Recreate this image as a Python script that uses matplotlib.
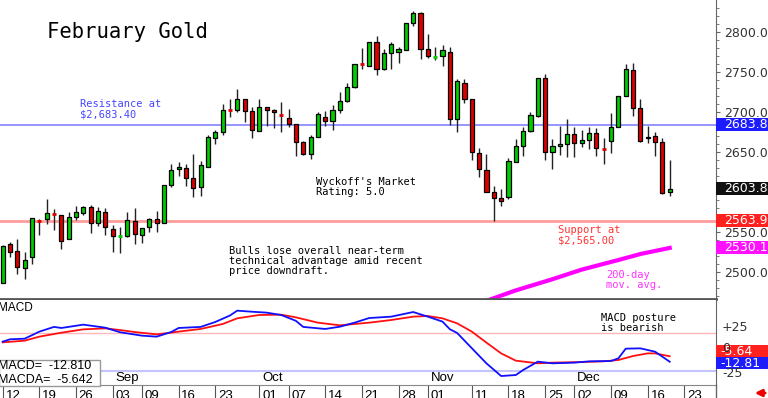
import numpy as np
import matplotlib.pyplot as plt
from matplotlib.patches import Rectangle
import matplotlib.transforms as mtransforms

# daily candles, Feb gold, Aug 12 .. Dec 19
opens = [2486.7, 2534.6, 2526.7, 2505.4, 2518.3, 2564.0, 2566.3, 2572.5, 2571.3, 2541.3,
         2568.3, 2574.2, 2580.8, 2560.8, 2574.6, 2553.3, 2545.4, 2545.4, 2564.2, 2546.3,
         2555.8, 2566.0, 2561.7, 2608.3, 2628.3, 2630.4, 2617.0, 2605.8, 2631.7, 2667.0,
         2674.6, 2703.0, 2702.5, 2716.0, 2701.0, 2676.7, 2705.8, 2702.5, 2696.7, 2692.0,
         2684.6, 2662.9, 2647.5, 2669.2, 2694.2, 2689.0, 2702.5, 2713.8, 2730.8, 2759.6,
         2757.9, 2787.0, 2753.3, 2773.3, 2775.4, 2777.5, 2810.8, 2824.2, 2778.3, 2769.0,
         2770.0, 2775.4, 2691.3, 2736.7, 2716.3, 2648.3, 2627.5, 2600.4, 2593.0, 2594.2,
         2637.9, 2657.9, 2676.7, 2695.0, 2742.1, 2649.6, 2657.9, 2660.0, 2672.5, 2661.7,
         2665.0, 2673.3, 2653.8, 2664.2, 2681.7, 2720.4, 2752.5, 2704.6, 2667.5, 2670.0,
         2662.1, 2599.6]
highs = [2533.5, 2537.0, 2540.8, 2525.4, 2567.5, 2566.0, 2591.3, 2578.3, 2571.3, 2575.4,
         2582.9, 2583.0, 2583.8, 2581.7, 2579.6, 2558.8, 2556.7, 2574.6, 2579.6, 2555.4,
         2567.0, 2576.7, 2609.0, 2635.0, 2637.0, 2634.6, 2647.5, 2638.8, 2671.0, 2677.5,
         2709.6, 2715.8, 2729.2, 2716.3, 2706.7, 2716.3, 2705.8, 2703.8, 2712.0, 2703.3,
         2684.6, 2664.0, 2671.3, 2700.4, 2701.3, 2708.3, 2724.6, 2735.8, 2760.0, 2779.6,
         2787.0, 2795.4, 2778.8, 2787.9, 2781.7, 2811.7, 2826.3, 2825.4, 2797.0, 2781.7,
         2783.8, 2781.7, 2741.3, 2741.3, 2716.3, 2655.4, 2647.5, 2607.9, 2603.8, 2642.0,
         2665.8, 2681.7, 2700.4, 2742.1, 2747.1, 2665.8, 2682.5, 2690.8, 2681.7, 2677.5,
         2681.7, 2679.6, 2667.9, 2699.2, 2720.4, 2760.0, 2760.8, 2716.3, 2682.5, 2674.6,
         2667.0, 2640.0]
lows = [2486.0, 2519.0, 2497.5, 2490.8, 2509.6, 2546.0, 2559.6, 2552.5, 2528.3, 2541.0,
        2565.0, 2571.3, 2549.2, 2557.5, 2546.3, 2525.4, 2523.3, 2544.0, 2535.0, 2536.7,
        2550.4, 2550.4, 2561.0, 2606.7, 2620.0, 2608.0, 2594.0, 2595.4, 2631.0, 2659.6,
        2671.3, 2694.2, 2699.6, 2687.1, 2667.9, 2676.7, 2682.9, 2679.6, 2674.6, 2680.8,
        2645.4, 2646.0, 2641.3, 2668.3, 2682.9, 2677.5, 2698.3, 2712.9, 2730.0, 2753.3,
        2757.5, 2746.3, 2752.5, 2753.3, 2761.7, 2777.5, 2807.5, 2765.8, 2767.0, 2765.0,
        2757.5, 2683.8, 2674.6, 2711.7, 2640.0, 2619.2, 2600.4, 2563.8, 2582.9, 2590.8,
        2637.0, 2645.0, 2675.4, 2694.2, 2640.0, 2628.8, 2646.3, 2644.2, 2643.3, 2655.8,
        2653.3, 2645.4, 2634.6, 2649.2, 2681.7, 2720.4, 2695.4, 2662.1, 2660.8, 2645.4,
        2597.1, 2595.4]
closes = [2533.0, 2525.4, 2506.7, 2515.0, 2567.0, 2563.8, 2573.3, 2572.3, 2538.3, 2569.2,
          2574.6, 2580.8, 2560.8, 2576.3, 2556.7, 2545.4, 2545.6, 2565.0, 2547.0, 2555.4,
          2566.3, 2561.7, 2608.8, 2627.5, 2630.8, 2617.0, 2605.4, 2633.8, 2669.2, 2674.6,
          2702.5, 2702.8, 2716.3, 2701.3, 2677.5, 2705.8, 2702.5, 2699.6, 2696.5, 2684.6,
          2662.9, 2647.5, 2669.2, 2697.1, 2688.8, 2702.5, 2713.8, 2730.8, 2760.0, 2759.4,
          2787.0, 2753.8, 2773.3, 2784.6, 2778.8, 2810.8, 2823.3, 2778.3, 2770.0, 2769.2,
          2777.5, 2691.3, 2738.8, 2716.3, 2649.6, 2628.8, 2600.4, 2592.9, 2588.8, 2638.8,
          2657.9, 2676.7, 2696.3, 2742.1, 2649.6, 2657.9, 2660.0, 2672.5, 2660.8, 2665.0,
          2673.3, 2654.6, 2653.6, 2681.7, 2720.4, 2753.8, 2704.6, 2664.2, 2669.2, 2662.1,
          2598.3, 2603.8]

# 200-day moving average (visible part only)
ma_idx = [67, 71, 76, 80, 85, 88, 92]
ma_val = [2464.0, 2477.0, 2491.0, 2503.0, 2515.0, 2522.5, 2530.1]

# MACD (blue) and its average (red)
macd_idx = [1, 2, 4, 6, 8, 9, 12, 15, 17, 20, 22, 24, 25, 28, 30, 32, 33, 35, 37, 39,
            41, 42, 45, 47, 49, 51, 54, 57, 59, 61, 62, 63, 65, 67, 69, 71, 72, 74, 76,
            79, 81, 84, 85, 86, 88, 90, 92]
macd_val = [13.6, 16.7, 17.5, 26.8, 33.0, 31.6, 36.0, 32.0, 26.0, 21.5, 20.2, 26.3, 31.6,
            33.0, 39.5, 48.0, 54.4, 53.0, 51.8, 48.7, 41.0, 33.0, 30.3, 33.3, 38.6, 44.7,
            46.5, 52.6, 46.5, 40.0, 30.0, 25.0, 5.0, -15.0, -31.6, -30.3, -23.7, -12.7,
            -14.9, -14.0, -12.3, -11.8, -8.3, 4.4, 4.8, 0.4, -12.81]
sig_idx = [1, 4, 6, 9, 12, 15, 17, 19, 22, 25, 28, 31, 33, 36, 39, 41, 44, 47, 51, 54,
           57, 59, 61, 63, 65, 67, 69, 71, 74, 76, 80, 83, 85, 87, 89, 90, 92]
sig_val = [12.7, 14.9, 20.2, 25.4, 29.8, 31.1, 28.9, 26.3, 23.2, 26.8, 30.3, 36.8, 44.3,
           48.7, 49.1, 45.6, 38.6, 35.1, 38.6, 42.1, 46.5, 47.4, 44.3, 37.7, 26.8, 12.3,
           -1.8, -11.4, -14.9, -14.0, -13.2, -12.3, -10.5, -5.3, -1.8, -1.8, -5.64]

# date axis
tick_idx = [1, 6, 11, 16, 20, 25, 30, 36, 40, 45, 50, 55, 59, 65, 70, 75, 79, 84, 89, 94]
tick_lab = ['12', '19', '26', '03', '09', '16', '23', '01', '07', '14', '21', '28',
            '01', '11', '18', '25', '02', '09', '16', '23']
month_idx = [16, 36, 59, 79]
month_lab = ['Sep', 'Oct', 'Nov', 'Dec']

resistance = 2683.4
support = 2563.9
last_close = 2603.8
resist_box = 2683.8
ma_last = 2530.1
macd_last = -12.81
macda_last = -5.64

W, H = 768, 398
fig = plt.figure(figsize=(W / 100, H / 100), dpi=100)


def box(x0, y0, x1, y1):
    # pixel box (top-left origin) -> figure fraction rect
    return [x0 / W, 1 - y1 / H, (x1 - x0) / W, (y1 - y0) / H]


ax = fig.add_axes(box(0, 0, 716, 299))
mx = fig.add_axes(box(0, 300, 716, 385))

xlo, xhi = 4.63 / 7.33, (716 + 4.63) / 7.33
mono = 'DejaVu Sans Mono'
sans = 'Liberation Sans'
rfont = 'DejaVu Sans'

# ---- price panel ----
ax.set_xlim(xlo, xhi)
ax.set_ylim(2466.25, 2840)
ax.axhline(resistance, color='#8c8cff', lw=1.3, zorder=1)
ax.axhline(support, color='#ff9c9c', lw=2, zorder=1)

bw = 0.56
for k in range(len(opens)):
    i = k + 1
    o, h, l, c = opens[k], highs[k], lows[k], closes[k]
    col = '#00cc00' if c >= o else '#dd0000'
    ax.vlines(i, l, h, color='#222222', lw=1, zorder=3)
    if abs(c - o) < 1:
        ax.hlines(o, i - bw / 2, i + bw / 2, color=col, lw=2, zorder=4)
    else:
        ax.add_patch(Rectangle((i - bw / 2, min(o, c)), bw, abs(c - o),
                               facecolor=col, edgecolor='black', lw=0.9, zorder=4))

ax.plot(ma_idx, ma_val, color='#ff00ff', lw=3, zorder=2)

ax.text(47 / 716, 1 - 32 / 299, 'February Gold', transform=ax.transAxes,
        fontsize=14.8, family=mono, va='center', ha='left')
ax.text(80 / 716, 1 - 109 / 299, 'Resistance at\n$2,683.40', transform=ax.transAxes,
        fontsize=7.5, family=mono, color='#4646ff', va='center', linespacing=1.05)
ax.text(316 / 716, 1 - 187 / 299, "Wyckoff's Market\nRating: 5.0", transform=ax.transAxes,
        fontsize=7.5, family=mono, color='black', va='center', linespacing=1.05)
ax.text(229 / 716, 1 - 261 / 299, 'Bulls lose overall near-term\ntechnical advantage amid recent\nprice downdraft.',
        transform=ax.transAxes, fontsize=7.5, family=mono, color='black', va='center', linespacing=1.05)
ax.text(558 / 716, 1 - 235 / 299, 'Support at\n$2,565.00', transform=ax.transAxes,
        fontsize=7.5, family=mono, color='#ff3333', va='center', linespacing=1.05)
ax.text(606 / 716, 1 - 280 / 299, '200-day\nmov. avg.', transform=ax.transAxes,
        fontsize=7.5, family=mono, color='#ff33ff', va='center', linespacing=1.05)

for s in ['top', 'left']:
    ax.spines[s].set_visible(False)
ax.spines['bottom'].set_color('#555555')
ax.spines['bottom'].set_linewidth(2)
ax.spines['right'].set_color('#666666')
ax.set_xticks([])
ax.yaxis.tick_right()
ax.set_yticks([2500, 2550, 2600, 2650, 2700, 2750, 2800])
ax.set_yticklabels(['%.1f' % v for v in ax.get_yticks()], family=rfont, fontsize=9, color='#333333')
ax.set_yticks(np.arange(2470, 2840, 10), minor=True)
ax.tick_params(axis='y', which='major', length=3, pad=3, color='#666666')
ax.tick_params(axis='y', which='minor', length=2, color='#666666')
ax.get_yticklabels()[2].set_visible(False)

# value boxes on right axis
bt = mtransforms.blended_transform_factory(ax.transAxes, ax.transData)
for val, fc in [(resist_box, '#1c1cff'), (last_close, '#111111'), (support, '#ff2020'), (ma_last, '#ff10ff')]:
    ax.add_patch(Rectangle((1.0, val - 8.1), 52 / 716, 16.2, transform=bt, facecolor=fc,
                           edgecolor='none', clip_on=False, zorder=5))
    ax.text(1.0 + 8 / 716, val, '%.1f' % val, transform=bt, color='white', family=rfont,
            fontsize=9, va='center', ha='left', clip_on=False, zorder=6)

# ---- MACD panel ----
mx.set_xlim(xlo, xhi)
mx.set_ylim(-(385 - 352) / 0.76, (352 - 300) / 0.76)
mx.axhline(25, color='#ffb8b8', lw=1, zorder=1)
mx.axhline(-25, color='#c4c4ff', lw=1.5, zorder=1)
mx.plot(sig_idx, sig_val, color='#ff1010', lw=1.3, zorder=3)
mx.plot(macd_idx, macd_val, color='#1010ff', lw=1.3, zorder=3)

mx.text(-2 / 716, 1 - 8 / 85, 'MACD', transform=mx.transAxes, family=sans, fontsize=8.5, va='center')
mx.text(601 / 716, 1 - 23 / 85, 'MACD posture\nis bearish', transform=mx.transAxes,
        fontsize=7.5, family=mono, va='center', linespacing=1.05)

fig.add_artist(Rectangle((-1 / W, 1 - 386 / H), 101 / W, 26 / H, transform=fig.transFigure,
                         facecolor='white', edgecolor='#999999', lw=1, zorder=10))
fig.text(-2 / W, 1 - 373 / H, 'MACD=  -12.810\nMACDA=  -5.642', family=sans, fontsize=9,
         va='center', ha='left', zorder=11, linespacing=1.15)

for s in ['top', 'left']:
    mx.spines[s].set_visible(False)
mx.spines['right'].set_color('#666666')
mx.spines['bottom'].set_color('#888888')
mx.set_yticks([])

mt = mtransforms.blended_transform_factory(mx.transAxes, mx.transData)
for v, lab, dy in [(25, '+25', 7), (0, '0', 5), (-25, '-25', -3)]:
    mx.text(1.0 + 6 / 716, v + dy, lab, transform=mt, family=rfont, fontsize=9,
            color='#333333', va='center', ha='left', clip_on=False, zorder=7)
for cv, lab, fc in [(macd_last - 2 + 16, '%.2f' % macda_last, '#ff2020'),
                    (macd_last - 2, '%.2f' % macd_last, '#1c1cff')]:
    mx.add_patch(Rectangle((1.0, cv - 7.9), 52 / 716, 15.8, transform=mt, facecolor=fc,
                           edgecolor='none', clip_on=False, zorder=5))
    mx.text(1.0 + 4 / 716, cv, lab, transform=mt, color='white', family=rfont,
            fontsize=9, va='center', ha='left', clip_on=False, zorder=6)

mx.set_xticks(tick_idx)
mx.set_xticklabels([''] * len(tick_idx))
mx.tick_params(axis='x', length=13, color='#555555', direction='out')
for i, lab in zip(tick_idx, tick_lab):
    mx.annotate(lab, xy=(i, 0), xycoords=('data', 'axes fraction'), xytext=(2, -8),
                textcoords='offset points', family=sans, fontsize=9.5, ha='left',
                va='center', annotation_clip=False)
for i, lab in zip(month_idx, month_lab):
    mx.annotate(lab, xy=(i, 0), xycoords=('data', 'axes fraction'), xytext=(2, 1),
                textcoords='offset points', family=sans, fontsize=9.5, ha='left',
                va='bottom', annotation_clip=False)

fig.add_artist(plt.Line2D([716 / W, 716 / W], [0, 1 - 385 / H], color='#666666', lw=1))
plt.annotate('', xy=(752 / W, 1 - 393 / H), xytext=(768 / W, 1 - 393 / H), xycoords='figure fraction',
             arrowprops=dict(arrowstyle='-|>', color='#ee0000', lw=2))

fig.savefig('out.png', dpi=100)
